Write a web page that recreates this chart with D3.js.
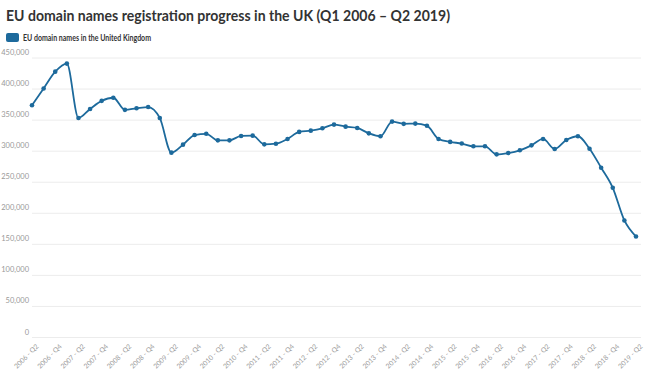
<!DOCTYPE html>
<html>
<head>
<meta charset="utf-8">
<script src="https://cdn.jsdelivr.net/npm/d3@7"></script>
<style>
  body { margin: 0; background: #fff; }
  svg { display: block; font-family: "Source Sans Pro", Lato, "Open Sans", sans-serif; }
</style>
</head>
<body>
<svg id="chart" width="648" height="371"></svg>
<script>
// Data: quarters 2006 Q2 .. 2019 Q2
var years = d3.range(2006, 2020);
var quarters = [];
years.forEach(function(y) {
    ["Q1", "Q2", "Q3", "Q4"].forEach(function(q) { quarters.push(y + " - " + q); });
});
quarters = quarters.slice(1, 54); // 2006 - Q2 .. 2019 - Q2

var registrations = [
    374000, 401000, 428000, 441000, 353500, 368000, 381000, 386000, 366500, 369000,
    371000, 353500, 297600, 310500, 326000, 328000, 317400, 317400, 324500, 325000,
    311000, 312000, 319700, 331000, 333000, 336800, 342800, 339500, 337400, 328700,
    324000, 347600, 344000, 344400, 341000, 319700, 314900, 312300, 307800, 307800,
    294900, 297000, 301400, 309400, 319700, 303600, 318000, 324000, 304000, 273400,
    241000, 188400, 162600
];

var yTicks = d3.range(0, 450001, 50000);
var seriesName = "EU domain names in the United Kingdom";
var titleText = "EU domain names registration progress in the UK (Q1 2006 \u2013 Q2 2019)";
var lineColor = "#1d6a9c";

var svg = d3.select("#chart");
var margin = { left: 32, right: 12, top: 58, bottom: 33 };

// Titel
svg.append("text")
    .attr("x", 6).attr("y", 21)
    .attr("font-size", 16).attr("font-weight", 700)
    .attr("fill", "#333")
    .attr("textLength", 444).attr("lengthAdjust", "spacingAndGlyphs")
    .text(titleText);

// Legende
svg.append("rect")
    .attr("x", 6).attr("y", 33).attr("width", 13).attr("height", 9)
    .attr("rx", 2).attr("fill", lineColor);
svg.append("text")
    .attr("x", 23).attr("y", 41)
    .attr("font-size", 9.5).attr("font-weight", 700)
    .attr("fill", "#333")
    .attr("textLength", 128).attr("lengthAdjust", "spacingAndGlyphs")
    .text(seriesName);

var x = d3.scalePoint()
    .domain(quarters)
    .range([margin.left, 636]);

var y = d3.scaleLinear()
    .domain([0, 450000])
    .range([337.5, 58]);

// Gitterlinjer og y-akse
var gy = svg.append("g");
yTicks.forEach(function(t) {
    gy.append("line")
        .attr("x1", margin.left).attr("x2", 641)
        .attr("y1", y(t)).attr("y2", y(t))
        .attr("stroke", "#ececec").attr("stroke-width", 1);
    gy.append("text")
        .attr("x", 29).attr("y", y(t) - 3)
        .attr("text-anchor", "end")
        .attr("font-size", 7.5).attr("fill", "#999")
        .text(d3.format(",")(t));
});

// x-akse etiketter (hver anden kvartal)
var gx = svg.append("g");
quarters.forEach(function(q, i) {
    if (i % 2 !== 0) return;
    gx.append("text")
        .attr("transform", "translate(" + (x(q) + 3) + "," + 343 + ") rotate(-45)")
        .attr("text-anchor", "end")
        .attr("dominant-baseline", "hanging")
        .attr("font-size", 6.8).attr("fill", "#999")
        .text(q);
});

// Linje
var line = d3.line()
    .x(function(d, i) { return x(quarters[i]); })
    .y(function(d) { return y(d); })
    .curve(d3.curveMonotoneX);

svg.append("path")
    .datum(registrations)
    .attr("d", line)
    .attr("fill", "none")
    .attr("stroke", lineColor)
    .attr("stroke-width", 1.8);

svg.append("g").selectAll("circle")
    .data(registrations)
    .enter().append("circle")
        .attr("cx", function(d, i) { return x(quarters[i]); })
        .attr("cy", function(d) { return y(d); })
        .attr("r", 2.3)
        .attr("fill", lineColor);
</script>
</body>
</html>
